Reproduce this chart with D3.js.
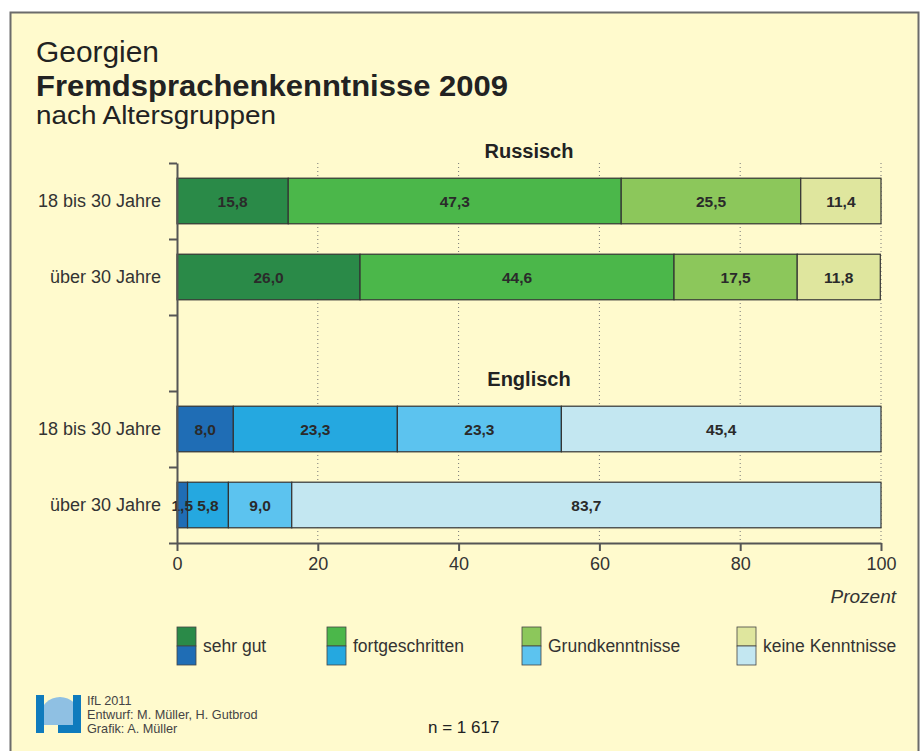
<!DOCTYPE html>
<html>
<head>
<meta charset="utf-8">
<script src="https://cdn.jsdelivr.net/npm/d3@7"></script>
<style>
  body { margin: 0; background: #fff; }
  svg { display: block; font-family: "Liberation Sans", Arial, sans-serif; }
</style>
</head>
<body>
<div id="chart"></div>
<script>
const width = 923;
const height = 751;

// data
const levels = ["sehr gut", "fortgeschritten", "Grundkenntnisse", "keine Kenntnisse"];
const ageGroups = ["18 bis 30 Jahre", "über 30 Jahre"];
const russisch = [[15.8, 47.3, 25.5, 11.4], [26.0, 44.6, 17.5, 11.8]];
const englisch = [[8.0, 23.3, 23.3, 45.4], [1.5, 5.8, 9.0, 83.7]];
const xTicks = [0, 20, 40, 60, 80, 100];

const greens = ["#2a8a48", "#4bb74a", "#8cc75b", "#dfe69e"];
const blues = ["#1f6db5", "#25a8e0", "#5cc3ef", "#c3e7f1"];

const rows = [
  { key: "r0", label: ageGroups[0], values: russisch[0], colors: greens },
  { key: "r1", label: ageGroups[1], values: russisch[1], colors: greens },
  { key: "gap", label: "", values: [], colors: [] },
  { key: "e0", label: ageGroups[0], values: englisch[0], colors: blues },
  { key: "e1", label: ageGroups[1], values: englisch[1], colors: blues }
];

const svg = d3.select("#chart").append("svg")
  .attr("width", width)
  .attr("height", height);

// frame
svg.append("rect")
  .attr("x", 10.5).attr("y", 12.5)
  .attr("width", 908).attr("height", 760)
  .attr("fill", "#fffacd")
  .attr("stroke", "#6b6b6b")
  .attr("stroke-width", 2);

// titles
svg.append("text").attr("x", 36).attr("y", 62)
  .attr("font-size", 29).attr("fill", "#222")
  .attr("textLength", 123).attr("lengthAdjust", "spacingAndGlyphs").text("Georgien");
svg.append("text").attr("x", 36).attr("y", 96)
  .attr("font-size", 30).attr("font-weight", "bold").attr("fill", "#222")
  .attr("textLength", 472).attr("lengthAdjust", "spacingAndGlyphs")
  .text("Fremdsprachenkenntnisse 2009");
svg.append("text").attr("x", 36).attr("y", 124)
  .attr("font-size", 26).attr("fill", "#222")
  .attr("textLength", 240).attr("lengthAdjust", "spacingAndGlyphs")
  .text("nach Altersgruppen");

const x = d3.scaleLinear().domain([0, 100]).range([177, 881]);
const y = d3.scaleBand()
  .domain(rows.map(d => d.key))
  .range([163, 543])
  .paddingInner(0.4)
  .paddingOuter(0.2);
const yEdge = d3.scaleLinear().domain([0, rows.length]).range([163, 543]);

// dotted grid
svg.append("g")
  .selectAll("line")
  .data(xTicks.slice(1))
  .join("line")
  .attr("x1", d => x(d)).attr("x2", d => x(d))
  .attr("y1", 163).attr("y2", 543)
  .attr("stroke", "#777")
  .attr("stroke-width", 1)
  .attr("stroke-dasharray", "1,3");

// section headings
svg.append("text").attr("x", (x(0) + x(100)) / 2).attr("y", 158)
  .attr("text-anchor", "middle").attr("font-size", 20).attr("font-weight", "bold")
  .attr("fill", "#222").text("Russisch");
svg.append("text").attr("x", (x(0) + x(100)) / 2).attr("y", 386)
  .attr("text-anchor", "middle").attr("font-size", 20).attr("font-weight", "bold")
  .attr("fill", "#222").text("Englisch");

// bars
const barRows = rows.filter(r => r.values.length);
barRows.forEach(r => {
  let acc = 0;
  const segs = r.values.map((v, i) => {
    const s = { x0: acc, x1: acc + v, v: v, color: r.colors[i] };
    acc += v;
    return s;
  });
  const g = svg.append("g");
  g.selectAll("rect")
    .data(segs)
    .join("rect")
    .attr("x", d => x(d.x0))
    .attr("y", y(r.key))
    .attr("width", d => x(d.x1) - x(d.x0))
    .attr("height", y.bandwidth())
    .attr("fill", d => d.color)
    .attr("stroke", "#333")
    .attr("stroke-width", 1.2);
  g.selectAll("text")
    .data(segs)
    .join("text")
    .attr("x", d => x((d.x0 + d.x1) / 2))
    .attr("y", y(r.key) + y.bandwidth() / 2 + 5.5)
    .attr("text-anchor", "middle")
    .attr("font-size", 15.5)
    .attr("font-weight", "bold")
    .attr("fill", "#2a2a2a")
    .text(d => d3.format(".1f")(d.v).replace(".", ","));
  svg.append("text")
    .attr("x", 161)
    .attr("y", y(r.key) + y.bandwidth() / 2 + 6)
    .attr("text-anchor", "end")
    .attr("font-size", 18)
    .attr("fill", "#333")
    .text(r.label);
});

// y axis (band edges)
const yAxis = svg.append("g")
  .attr("transform", "translate(177,0)")
  .call(d3.axisLeft(yEdge).tickValues(d3.range(rows.length + 1)).tickFormat("").tickSize(8).tickSizeOuter(0));
yAxis.selectAll("path, line").attr("stroke", "#555").attr("stroke-width", 2);

// x axis
const xAxis = svg.append("g")
  .attr("transform", "translate(0,543)")
  .call(d3.axisBottom(x).tickValues(xTicks).tickSize(8).tickSizeOuter(0).tickPadding(6));
xAxis.selectAll("path, line").attr("stroke", "#555").attr("stroke-width", 2);
xAxis.selectAll("text").attr("font-size", 18).attr("fill", "#333")
  .attr("font-family", "Liberation Sans, Arial, sans-serif");

svg.append("text").attr("x", 896).attr("y", 603)
  .attr("text-anchor", "end").attr("font-size", 19).attr("font-style", "italic")
  .attr("fill", "#333").text("Prozent");

// legend
const legendX = [177, 327, 522, 737];
const legend = svg.append("g")
  .selectAll("g")
  .data(levels)
  .join("g")
  .attr("transform", (d, i) => `translate(${legendX[i]},627)`);
legend.append("rect")
  .attr("width", 19).attr("height", 19)
  .attr("fill", (d, i) => greens[i])
  .attr("stroke", "#444").attr("stroke-width", 0.8);
legend.append("rect")
  .attr("y", 19).attr("width", 19).attr("height", 19)
  .attr("fill", (d, i) => blues[i])
  .attr("stroke", "#444").attr("stroke-width", 0.8);
legend.append("text")
  .attr("x", 26).attr("y", 25)
  .attr("font-size", 17.5).attr("fill", "#333")
  .text(d => d);

// logo
const logo = svg.append("g").attr("transform", "translate(36,695)");
logo.append("defs").append("clipPath").attr("id", "globeClip")
  .append("rect").attr("x", 8).attr("y", 0).attr("width", 29).attr("height", 30);
logo.append("circle").attr("cx", 24).attr("cy", 22).attr("r", 20)
  .attr("fill", "#8fc0e3").attr("clip-path", "url(#globeClip)");
logo.append("rect").attr("x", 0).attr("y", 0).attr("width", 8).attr("height", 38).attr("fill", "#0f7bbd");
logo.append("rect").attr("x", 37).attr("y", 0).attr("width", 8).attr("height", 38).attr("fill", "#0f7bbd");
logo.append("rect").attr("x", 22).attr("y", 30).attr("width", 23).attr("height", 8).attr("fill", "#0f7bbd");

const credits = ["IfL 2011", "Entwurf: M. Müller, H. Gutbrod", "Grafik: A. Müller"];
svg.append("g").selectAll("text")
  .data(credits)
  .join("text")
  .attr("x", 87)
  .attr("y", (d, i) => 705 + i * 14)
  .attr("font-size", 12.7)
  .attr("fill", "#444")
  .text(d => d);

svg.append("text").attr("x", 428).attr("y", 733)
  .attr("font-size", 17).attr("fill", "#222").text("n = 1 617");
</script>
</body>
</html>
